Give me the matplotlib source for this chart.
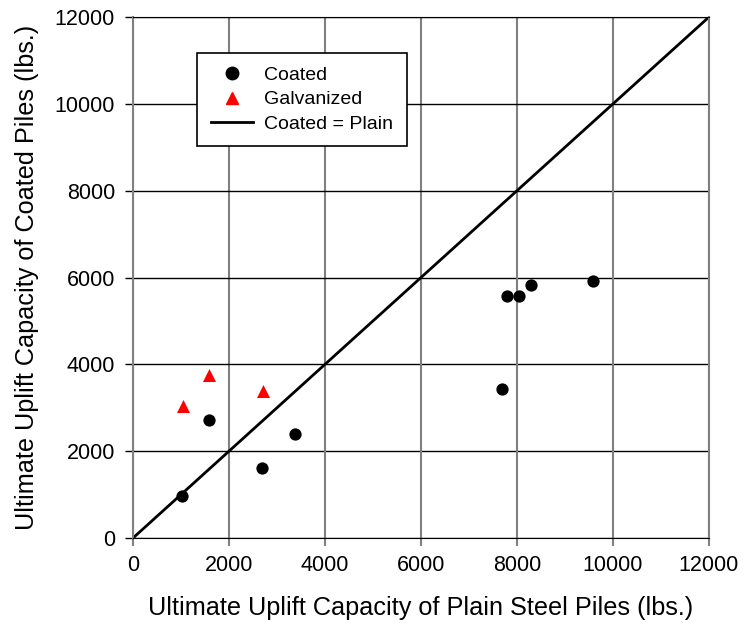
import matplotlib
matplotlib.use("Agg")
import matplotlib.pyplot as plt
from matplotlib.lines import Line2D

plt.rcParams['font.family'] = ['Liberation Sans', 'DejaVu Sans']

coated_x = [1020, 1580, 2680, 3370, 7680, 7800, 8050, 8300, 9580]
coated_y = [970, 2720, 1620, 2390, 3425, 5580, 5580, 5835, 5930]
galv_x = [1050, 1590, 2700]
galv_y = [3045, 3750, 3385]
line_x = [0, 12000]
line_y = [0, 12000]
ticks = [0, 2000, 4000, 6000, 8000, 10000, 12000]

fig = plt.figure(figsize=(7.43, 6.23), dpi=100)
ax = fig.add_axes([133/743, 1 - 538/623, (709-133)/743, (538-17)/623])

gray = '#808080'
for t in ticks:
    ax.axvline(t, color=gray, lw=1.5, zorder=1)
    ax.axhline(t, color='black', lw=1.0, zorder=1)

ax.plot(line_x, line_y, color='black', lw=2, zorder=2)
ax.scatter(coated_x, coated_y, marker='o', s=78, color='black', zorder=3, linewidths=0)
ax.scatter(galv_x, galv_y, marker='^', s=88, color='#ff0000', zorder=3, linewidths=0)

ax.set_xlim(0, 12000)
ax.set_ylim(0, 12000)
ax.set_xticks(ticks)
ax.set_yticks(ticks)
ax.tick_params(axis='x', direction='out', length=6, width=1.5, color=gray, labelsize=15.5, pad=6)
ax.tick_params(axis='y', direction='out', length=6, width=1.0, color='black', labelsize=15.5, pad=7)
ax.spines['left'].set_color(gray)
ax.spines['right'].set_color(gray)
ax.spines['left'].set_linewidth(1.5)
ax.spines['right'].set_linewidth(1.5)
ax.spines['top'].set_color('black')
ax.spines['bottom'].set_color('black')

ax.set_xlabel('Ultimate Uplift Capacity of Plain Steel Piles (lbs.)', fontsize=18.2, labelpad=15)
ax.set_ylabel('Ultimate Uplift Capacity of Coated Piles (lbs.)', fontsize=18.2, labelpad=11)

handles = [
    Line2D([], [], marker='o', color='black', linestyle='none', markersize=9),
    Line2D([], [], marker='^', color='#ff0000', linestyle='none', markersize=9),
    Line2D([], [], color='black', lw=2),
]
labels = ['Coated', 'Galvanized', 'Coated = Plain']
leg = ax.legend(handles, labels, loc='upper left', bbox_to_anchor=((197-133)/576, 1 - (53-17)/521),
                fontsize=14, frameon=True, fancybox=False, edgecolor='black', framealpha=1,
                handlelength=2.2, borderpad=0.7, labelspacing=0.34, handletextpad=0.55,
                borderaxespad=0)
leg.get_frame().set_linewidth(1.2)
leg.set_zorder(5)

fig.savefig('out.png', dpi=100)
